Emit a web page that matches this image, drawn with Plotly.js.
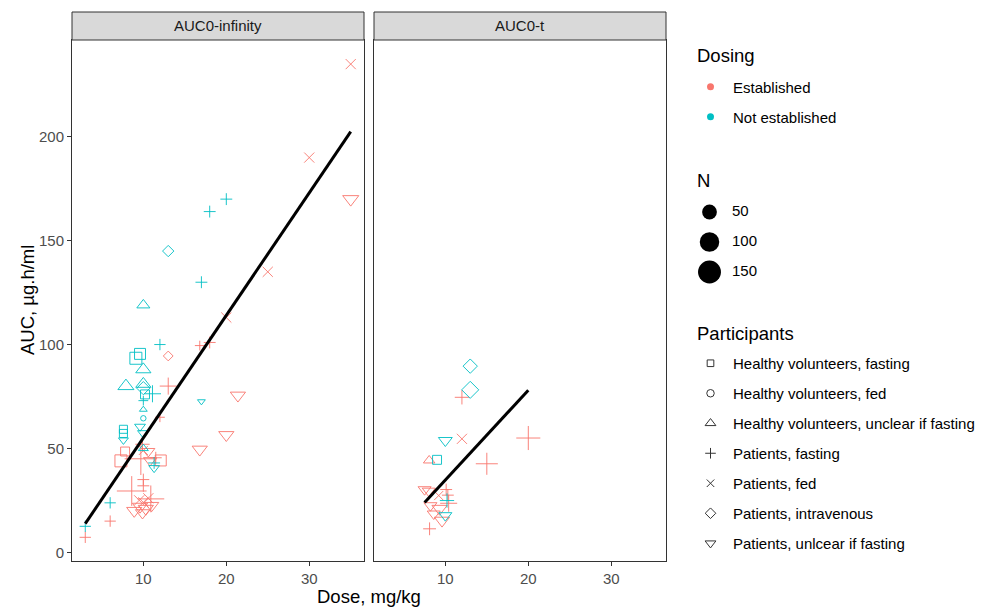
<!DOCTYPE html>
<html><head><meta charset="utf-8">
<script src="https://cdn.plot.ly/plotly-3.0.1.min.js"></script>
<style>html,body{margin:0;padding:0;background:#fff}#chart{width:986px;height:609px}</style>
</head><body><div id="chart"></div>
<script>
const panelNames = ['AUC0-infinity', 'AUC0-t'];
const dosingLevels = ['Established', 'Not established'];
const participantLevels = ['Healthy volunteers, fasting', 'Healthy volunteers, fed',
  'Healthy volunteers, unclear if fasting', 'Patients, fasting', 'Patients, fed',
  'Patients, intravenous', 'Patients, unlcear if fasting'];
const nBreaks = [50, 100, 150];
const xTicks = [10, 20, 30];
const yTicks = [0, 50, 100, 150, 200];

// Panel AUC0-infinity
const infDose = [35, 30, 35, 25, 20, 16.8, 18, 21.4, 20, 16.8, 17, 20, 18, 13, 17, 10, 12, 13, 9.1, 9.6,
  10, 7.9, 10, 10, 10.2, 11.1, 13, 10, 10, 10, 9.6, 7.6, 7.6, 7.6, 9.9, 10, 11.3, 11.3, 6, 3,
  3, 6, 7.8, 7.3, 12.1, 10.6, 10.8, 9.9, 9.7, 10, 11.5, 12, 8.6, 10, 10, 10.9, 8.9, 9.6, 10.3, 11,
  9.9, 10, 10.6, 9.5];
const infAUC = [235, 190, 170, 135, 113, 99.5, 101, 75.5, 56.5, 49.5, 72.6, 170, 164, 145, 130, 119, 100, 94.5, 93.4, 95.5,
  88, 80, 81, 79, 76, 76.3, 80, 73, 68.7, 64.5, 60.5, 59.2, 57.2, 54, 57.5, 50, 43, 40.6, 23.8, 12.5,
  7.2, 15, 48.5, 44, 44.2, 48.6, 44.2, 52, 45, 49, 45.5, 65, 29.5, 35, 32, 25.7, 20, 22, 21, 22.5,
  19, 24, 26, 25];
const infN = [20, 20, 25, 20, 20, 11, 14, 22, 22, 22, 10, 14, 14, 13, 14, 16, 13, 11, 40, 32,
  22, 25, 22, 17, 20, 30, 30, 11, 10, 10, 12, 16, 16, 11, 11, 11, 14, 12, 13, 13,
  13, 13, 20, 40, 32, 16, 16, 20, 150, 16, 14, 11, 121, 14, 14, 94, 22, 22, 22, 19,
  19, 20, 20, 20];
const infDosing = [0, 0, 0, 0, 0, 0, 0, 0, 0, 0, 1, 1, 1, 1, 1, 1, 1, 0, 1, 1,
  1, 1, 1, 1, 1, 1, 0, 1, 1, 1, 1, 1, 1, 1, 1, 1, 1, 1, 1, 1,
  0, 0, 0, 0, 0, 0, 0, 0, 0, 0, 0, 0, 0, 0, 0, 0, 0, 0, 0, 0,
  0, 0, 0, 0];
const infParticipants = [4, 4, 6, 4, 4, 3, 3, 6, 6, 6, 6, 3, 3, 5, 3, 2, 3, 5, 0, 0,
  2, 2, 2, 5, 0, 3, 3, 3, 2, 1, 6, 0, 0, 6, 6, 2, 3, 6, 3, 3,
  3, 3, 0, 0, 0, 6, 6, 3, 3, 4, 3, 3, 3, 3, 3, 3, 6, 6, 6, 6,
  6, 4, 4, 4];

// Panel AUC0-t
const tDose = [13, 13, 12, 10, 12, 8.05, 9, 20, 15, 8.1, 7.5, 8, 10.1, 10.4, 10.2, 10, 9.6, 8.6, 8.2, 9.2, 10.3, 9.3];
const tAUC = [89.6, 78.2, 74.6, 53.8, 54.6, 44.2, 44.5, 55, 42.6, 11.3, 30.2, 29.5, 30.2, 23.6, 24.9, 17.7, 15.3, 18.5, 22.5, 27.3, 27.5, 21];
const tN = [20, 30, 20, 18, 20, 13, 20, 71, 57, 16, 16, 16, 14, 30, 20, 16, 22, 16, 16, 16, 14, 22];
const tDosing = [1, 1, 0, 1, 0, 0, 1, 0, 0, 0, 0, 0, 0, 0, 1, 1, 0, 0, 0, 0, 0, 0];
const tParticipants = [5, 5, 3, 6, 4, 2, 0, 3, 3, 3, 6, 6, 3, 3, 3, 6, 6, 6, 6, 4, 3, 6];

// Linear fits
const fitInfDose = [3, 35];
const fitInfAUC = [13.8, 202.5];
const fitTDose = [7.5, 20];
const fitTAUC = [24, 78];

// ---- styling ----
const FONT = 'Liberation Sans, Arial, sans-serif';
const dosingColors = ['#F8766D', '#00BFC4'];
const symbols = ['square-open', 'circle-open', 'triangle-up-open', 'cross-thin-open', 'x-thin-open', 'diamond-open', 'triangle-down-open'];
const symbolScale = [0.886, 1.0, 1.25, 1.01, 1.0, 1.088, 1.25];
function sizeFn(n) { return 5.44 * (1 + 5 * Math.sqrt(Math.max(n - 10, 0) / 338)); }

const W = 986, H = 609, ML = 72, MR = 0, MT = 40, MB = 48;
const PW = W - ML - MR, PH = H - MT - MB;
const px2x = p => (p - ML) / PW;
const px2y = p => (H - MB - p) / PH;

const traces = [];
function addPanel(dose, auc, n, dosing, parts, xa, ya) {
  for (let d = 0; d < 2; d++) {
    for (let g = 0; g < 7; g++) {
      const idx = [];
      for (let i = 0; i < dose.length; i++) if (dosing[i] === d && parts[i] === g) idx.push(i);
      if (!idx.length) continue;
      traces.push({
        type: 'scatter', mode: 'markers', xaxis: xa, yaxis: ya, showlegend: false, hoverinfo: 'skip',
        x: idx.map(i => dose[i]), y: idx.map(i => auc[i]),
        marker: { symbol: symbols[g], color: dosingColors[d], opacity: 0.9,
          size: idx.map(i => sizeFn(n[i]) * symbolScale[g]),
          line: { width: 1, color: dosingColors[d] } }
      });
    }
  }
}
addPanel(infDose, infAUC, infN, infDosing, infParticipants, 'x', 'y');
addPanel(tDose, tAUC, tN, tDosing, tParticipants, 'x2', 'y2');
traces.push({ type: 'scatter', mode: 'lines', x: fitInfDose, y: fitInfAUC, xaxis: 'x', yaxis: 'y', showlegend: false,
  line: { color: '#000', width: 3 }, hoverinfo: 'skip' });
traces.push({ type: 'scatter', mode: 'lines', x: fitTDose, y: fitTAUC, xaxis: 'x2', yaxis: 'y2', showlegend: false,
  line: { color: '#000', width: 3 }, hoverinfo: 'skip' });

// Legend: Dosing
dosingLevels.forEach((lab, d) => traces.push({
  type: 'scatter', mode: 'markers', x: [null], y: [null], name: lab, legend: 'legend', legendgroup: 'd' + d,
  showlegend: true, marker: { color: dosingColors[d], size: 7, symbol: 'circle', opacity: 1 }
}));
// Legend: Participants
participantLevels.forEach((lab, g) => traces.push({
  type: 'scatter', mode: 'markers', x: [null], y: [null], name: lab, legend: 'legend3', legendgroup: 'p' + g,
  showlegend: true, marker: { color: '#333', size: 7.5 * symbolScale[g], symbol: symbols[g], opacity: 1, line: { width: 1, color: '#333' } }
}));
// Legend: N (drawn on a hidden axis so circle sizes follow the size scale)
traces.push({ type: 'scatter', mode: 'markers', xaxis: 'x3', yaxis: 'y3', showlegend: false, hoverinfo: 'skip', cliponaxis: false,
  x: nBreaks.map(() => 9.5), y: nBreaks, marker: { color: '#000', opacity: 1, size: nBreaks.map(sizeFn), line: { width: 0 } } });
traces.push({ type: 'scatter', mode: 'text', xaxis: 'x3', yaxis: 'y3', showlegend: false, hoverinfo: 'skip', cliponaxis: false,
  x: nBreaks.map(() => 32), y: nBreaks, text: nBreaks.map(String), textposition: 'middle right',
  textfont: { size: 15, color: '#000', family: FONT } });

const axisCommon = {
  showgrid: false, zeroline: false, showline: true, mirror: true, linecolor: '#333', linewidth: 1,
  ticks: 'outside', ticklen: 4, tickcolor: '#333', tickwidth: 1,
  tickfont: { size: 15, color: '#4D4D4D', family: FONT }
};
const xRange = [1.4, 36.6];
const yRange = [-4.2, 246.6];
const leftDom = [0, px2x(364)];
const rightDom = [px2x(374), px2x(666)];

const shapes = [], annotations = [];
[['x', 0], ['x2', 1]].forEach(([xa, k]) => {
  shapes.push({ type: 'rect', xref: xa + ' domain', yref: 'paper', x0: 0, x1: 1, y0: 1, y1: 1 + 28 / PH,
    fillcolor: '#D9D9D9', line: { color: '#333', width: 1 } });
  annotations.push({ xref: xa + ' domain', yref: 'paper', x: 0.5, y: 1 + 14 / PH, text: panelNames[k], showarrow: false,
    xanchor: 'center', yanchor: 'middle', font: { size: 15, color: '#1A1A1A', family: FONT } });
});
const titleFont = { size: 18.5, color: '#000', family: FONT };
annotations.push({ xref: 'paper', yref: 'paper', x: px2x(369), y: px2y(596), text: 'Dose, mg/kg', showarrow: false,
  xanchor: 'center', yanchor: 'middle', font: titleFont });
annotations.push({ xref: 'paper', yref: 'paper', x: px2x(27), y: px2y(300), text: 'AUC, µg.h/ml', showarrow: false, textangle: -90,
  xanchor: 'center', yanchor: 'middle', font: titleFont });
[['Dosing', 55], ['N', 180], ['Participants', 333]].forEach(([t, py]) => annotations.push({
  xref: 'paper', yref: 'paper', x: px2x(695), y: px2y(py), text: t, showarrow: false,
  xanchor: 'left', yanchor: 'middle', font: titleFont }));

const legendCommon = {
  xref: 'paper', yref: 'paper', xanchor: 'left', yanchor: 'top', bgcolor: 'rgba(0,0,0,0)',
  borderwidth: 0, font: { size: 15, color: '#000', family: FONT }, traceorder: 'grouped', tracegroupgap: 7.5,
  itemclick: false, itemdoubleclick: false, itemwidth: 35
};
const layout = {
  width: W, height: H, margin: { l: ML, r: MR, t: MT, b: MB, pad: 0, autoexpand: false },
  paper_bgcolor: '#fff', plot_bgcolor: '#fff', font: { family: FONT },
  xaxis: Object.assign({}, axisCommon, { domain: leftDom, range: xRange, tickvals: xTicks, anchor: 'y' }),
  xaxis2: Object.assign({}, axisCommon, { domain: rightDom, range: xRange, tickvals: xTicks, anchor: 'y2' }),
  yaxis: Object.assign({}, axisCommon, { domain: [0, 1], range: yRange, tickvals: yTicks, anchor: 'x' }),
  yaxis2: Object.assign({}, axisCommon, { domain: [0, 1], range: yRange, tickvals: yTicks, anchor: 'x2', showticklabels: false, ticks: '' }),
  xaxis3: { domain: [px2x(700), px2x(800)], range: [0, 100], visible: false, fixedrange: true, anchor: 'y3' },
  yaxis3: { domain: [px2y(285), px2y(200)], range: [171.67, 30], visible: false, fixedrange: true, anchor: 'x3' },
  legend: Object.assign({}, legendCommon, { x: px2x(688), y: px2y(70.5) }),
  legend3: Object.assign({}, legendCommon, { x: px2x(688), y: px2y(347) }),
  shapes: shapes, annotations: annotations, showlegend: true
};
Plotly.newPlot('chart', traces, layout, { staticPlot: true, displayModeBar: false });
</script>
</body></html>
